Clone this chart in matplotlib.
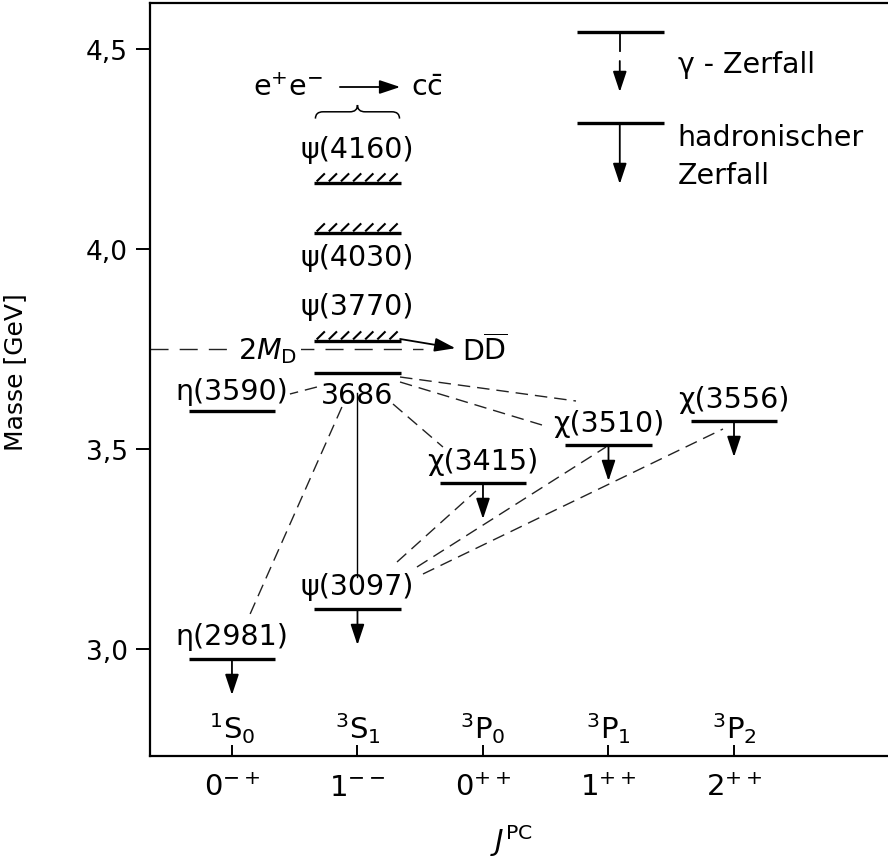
import numpy as np
import matplotlib
matplotlib.use('Agg')
import matplotlib.pyplot as plt
from matplotlib.path import Path
from matplotlib.patches import PathPatch

plt.rcParams['font.family'] = ['DejaVu Sans']
plt.rcParams['mathtext.fontset'] = 'dejavusans'

# ---------------- data ----------------
jpc_labels = ['0$^{-+}$', '1$^{--}$', '0$^{++}$', '1$^{++}$', '2$^{++}$']
term_labels = [r'$^{1}\mathrm{S}_{0}$', r'$^{3}\mathrm{S}_{1}$', r'$^{3}\mathrm{P}_{0}$',
               r'$^{3}\mathrm{P}_{1}$', r'$^{3}\mathrm{P}_{2}$']
y_ticks = [3.0, 3.5, 4.0, 4.5]
y_ticklabels = ['3,0', '3,5', '4,0', '4,5']

state_names = ['η(2981)', 'ψ(3097)', 'η(3590)', '3686', 'χ(3415)', 'χ(3510)',
               'χ(3556)', 'ψ(3770)', 'ψ(4030)', 'ψ(4160)']
state_column = [0, 1, 0, 1, 2, 3, 4, 1, 1, 1]
state_mass = [2.975, 3.100, 3.595, 3.690, 3.415, 3.510, 3.570, 3.770, 4.040, 4.165]

hadronic_decays = ['η(2981)', 'ψ(3097)', 'χ(3415)', 'χ(3510)', 'χ(3556)']
broad_states = ['ψ(3770)', 'ψ(4030)', 'ψ(4160)']
gamma_transitions = [('3686', 'η(3590)'), ('3686', 'η(2981)'), ('3686', 'χ(3415)'),
                     ('3686', 'χ(3510)'), ('3686', 'χ(3556)'), ('ψ(3097)', 'χ(3415)'),
                     ('ψ(3097)', 'χ(3510)'), ('ψ(3097)', 'χ(3556)')]
threshold_2MD = 3.75

# ---------------- styles / layout ----------------
LW_LEVEL = 2.4
HALF = 0.345
FS_STATE = 20.5
# vertical label offsets (points) relative to level line
label_dy = {'η(2981)': 16.5, 'ψ(3097)': 16.5, 'η(3590)': 14.5, '3686': -16,
            'χ(3415)': 16, 'χ(3510)': 16, 'χ(3556)': 16, 'ψ(3770)': 25,
            'ψ(4030)': -17, 'ψ(4160)': 24.5}
# endpoints of gamma-transition lines, offsets (dx, dy) from each level anchor
trans_offsets = [((-0.323, -0.035), (0.462, 0.0425)),
                 ((-0.124, -0.085), (0.127, 0.100)),
                 ((0.283, -0.0775), (-0.319, 0.090)),
                 ((0.339, -0.0225), (-0.530, 0.050)),
                 ((0.339, -0.010), (-1.259, 0.050)),
                 ((0.315, 0.1175), (-0.056, -0.020)),
                 ((0.474, 0.105), (-0.020, -0.005)),
                 ((0.522, 0.0875), (-0.088, -0.020))]

W, H = 888, 862
fig = plt.figure(figsize=(W / 100, H / 100), dpi=100)
ax = fig.add_axes([150 / W, 1 - 757 / H, (W - 150) / W, 753 / H])
ax.set_xlim(-0.653, 5.227)
ax.set_ylim(2.7325, 4.615)

for s in ['left', 'bottom', 'top']:
    ax.spines[s].set_linewidth(1.6)
ax.spines['right'].set_visible(False)

ax.set_yticks(y_ticks)
ax.set_yticklabels(y_ticklabels, fontsize=19)
ax.tick_params(axis='y', direction='out', length=10, width=1.4, pad=6)
ax.set_xticks(range(len(jpc_labels)))
ax.set_xticklabels(jpc_labels, fontsize=21)
ax.tick_params(axis='x', direction='in', length=8, width=1.4, pad=12)
ax.set_xlabel(r'$J^{\mathrm{PC}}$', fontsize=21)
ax.xaxis.set_label_coords(0.49, -0.088)
ax.set_ylabel('Masse [GeV]', fontsize=18)
ax.yaxis.set_label_coords((27 - 150) / 738, (757 - 372) / 753)

# term labels above the x axis
for i, t in enumerate(term_labels):
    ax.text(i, 2.776, t, ha='center', va='baseline', fontsize=21)

idx = {n: i for i, n in enumerate(state_names)}
col = np.array(state_column, dtype=float)
mass = np.array(state_mass)

# levels
for n in state_names:
    i = idx[n]
    ax.plot([col[i] - HALF, col[i] + HALF], [mass[i], mass[i]], color='black',
            lw=LW_LEVEL, solid_capstyle='butt', zorder=3)
    ax.annotate(n, (col[i], mass[i]), xytext=(0, label_dy[n]), textcoords='offset points',
                ha='center', va='center', fontsize=FS_STATE, zorder=4)

# hatching on broad states
for n in broad_states:
    i = idx[n]
    for xs in np.linspace(col[i] - HALF + 0.02, col[i] + HALF - 0.09, 7):
        ax.plot([xs, xs + 0.065], [mass[i] + 0.004, mass[i] + 0.024], color='black',
                lw=1.5, solid_capstyle='butt', zorder=3)

# hadronic decay arrows
arrow_kw = dict(arrowstyle='-|>,head_length=0.9,head_width=0.3', lw=1.3, color='black',
                shrinkA=0, shrinkB=0, mutation_scale=14)
for n in hadronic_decays:
    i = idx[n]
    ax.annotate('', xy=(col[i], mass[i] - 0.09), xytext=(col[i], mass[i]),
                arrowprops=arrow_kw, zorder=3)

# 3686 -> psi(3097) transition (solid line)
ax.plot([col[idx['3686']]] * 2, [mass[idx['3686']] - 0.05, mass[idx['ψ(3097)']] + 0.08],
        color='black', lw=1.0, zorder=2)

# gamma transitions (dashed)
for (a, b), (oa, ob) in zip(gamma_transitions, trans_offsets):
    ia, ib = idx[a], idx[b]
    ax.plot([col[ia] + oa[0], col[ib] + ob[0]], [mass[ia] + oa[1], mass[ib] + ob[1]],
            color='#222222', lw=1.0, dashes=(9, 5), zorder=2)

# 2 M_D threshold
ax.plot([-0.653, 1.52], [threshold_2MD, threshold_2MD], color='#222222', lw=1.0,
        dashes=(13, 8), zorder=1)
ax.text(0.28, threshold_2MD - 0.004, r'2$M_{\mathrm{D}}$', ha='center', va='center',
        fontsize=FS_STATE, zorder=4,
        bbox=dict(boxstyle='square,pad=0.15', fc='white', ec='none'))
ax.annotate('', xy=(1.78, threshold_2MD + 0.002), xytext=(1.34, mass[idx['ψ(3770)']] + 0.005),
            arrowprops=arrow_kw, zorder=3)
ax.text(1.83, threshold_2MD - 0.003, r'D$\overline{\mathrm{D}}$', ha='left', va='center',
        fontsize=FS_STATE)

# e+e- -> c cbar
y_ee = 4.405
ax.text(0.725, y_ee, r'e$^{+}$e$^{-}$', ha='right', va='center', fontsize=FS_STATE)
ax.annotate('', xy=(1.34, y_ee), xytext=(0.86, y_ee), arrowprops=arrow_kw)
ax.text(1.43, y_ee, r'c$\bar{\mathrm{c}}$', ha='left', va='center', fontsize=FS_STATE)

# brace (opening downwards, tip up)
bx0, bx1 = 1 - HALF + 0.01, 1 + HALF - 0.01
bxc = 0.5 * (bx0 + bx1)
yb, ym, yt = 4.326, 4.343, 4.360
r = 0.06
verts = [(bx0, yb), (bx0, ym), (bx0 + r, ym), (bxc - r, ym), (bxc, ym), (bxc, yt),
         (bxc, ym), (bxc + r, ym), (bx1 - r, ym), (bx1, ym), (bx1, yb)]
codes = [Path.MOVETO, Path.CURVE3, Path.CURVE3, Path.LINETO, Path.CURVE3, Path.CURVE3,
         Path.CURVE3, Path.CURVE3, Path.LINETO, Path.CURVE3, Path.CURVE3]
ax.add_patch(PathPatch(Path(verts, codes), fc='none', ec='black', lw=1.1))

# legend (drawn manually)
lx, lx0, lx1, ltx = 3.09, 2.75, 3.44, 3.55
ax.plot([lx0, lx1], [4.5425, 4.5425], color='black', lw=LW_LEVEL, solid_capstyle='butt')
ax.plot([lx, lx], [4.5425, 4.495], color='black', lw=1.3)
ax.annotate('', xy=(lx, 4.3925), xytext=(lx, 4.47), arrowprops=arrow_kw)
ax.text(ltx, 4.4625, 'γ - Zerfall', ha='left', va='center', fontsize=FS_STATE)
ax.plot([lx0, lx1], [4.315, 4.315], color='black', lw=LW_LEVEL, solid_capstyle='butt')
ax.annotate('', xy=(lx, 4.1625), xytext=(lx, 4.315), arrowprops=arrow_kw)
ax.text(ltx, 4.28, 'hadronischer', ha='left', va='center', fontsize=FS_STATE)
ax.text(ltx, 4.185, 'Zerfall', ha='left', va='center', fontsize=FS_STATE)

fig.savefig('out.png', dpi=100)
